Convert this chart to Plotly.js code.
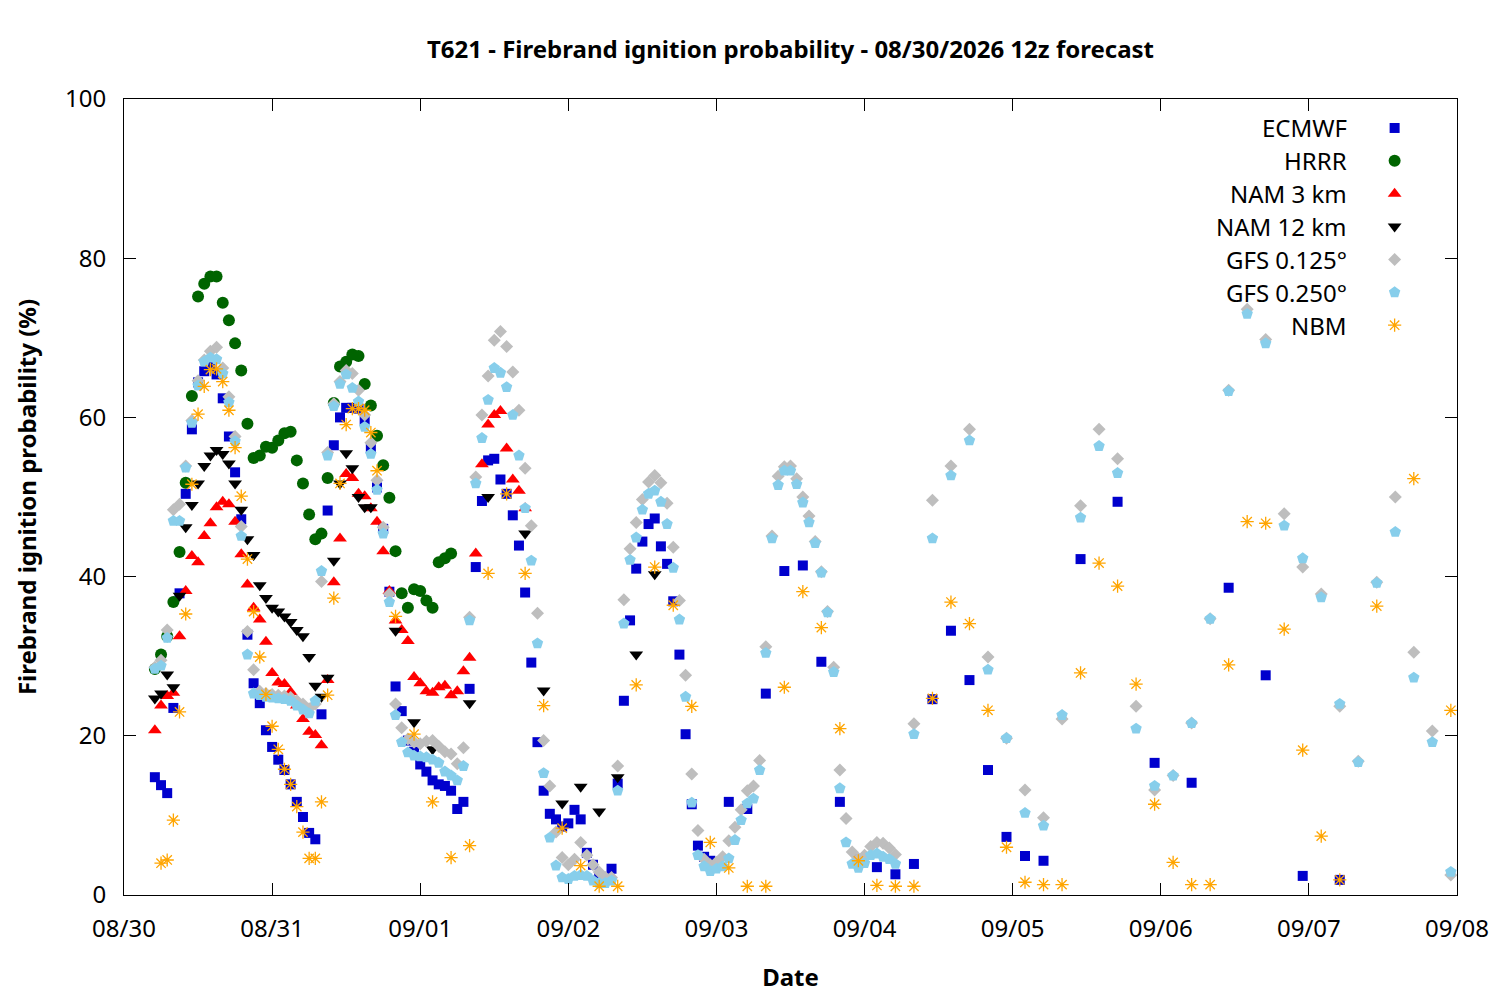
<!DOCTYPE html>
<html>
<head>
<meta charset="utf-8">
<script src="https://cdn.plot.ly/plotly-3.0.1.min.js"></script>
<style>html,body{margin:0;padding:0;background:#fff;}#chart{width:1500px;height:1000px;}</style>
</head>
<body>
<div id="chart"></div>
<script>
// ---- time helpers (hours since 2026-08-30 00:00 local) ----
function span(a, b, s) { var r = []; for (var h = a; h <= b; h += s) r.push(h); return r; }
function toDate(h) { return new Date(Date.UTC(2026, 7, 30, 0) + h * 3600000).toISOString().slice(0, 16).replace('T', ' '); }

// ---- series names ----
var seriesNames = ['ECMWF', 'HRRR', 'NAM 3 km', 'NAM 12 km', 'GFS 0.125°', 'GFS 0.250°', 'NBM'];

// ---- ECMWF ----
var ecmwfHours = span(5, 95, 1).concat(span(98, 149, 3), span(155, 197, 6));
var ecmwfValues = [
  14.8, 13.8, 12.8, 23.5, 37.9, 50.4, 58.5, 64.4, 65.8, 66.5,
  65.4, 62.4, 57.6, 53.1, 47.2, 32.7, 26.6, 24.1, 20.7, 18.6,
  17.0, 15.7, 13.9, 11.7, 9.8, 7.8, 7.0, 22.7, 48.3, 56.5,
  60.0, 61.2, 61.2, 61.1, 59.7, 56.1, 51.2, 46.0, 38.1, 26.2,
  23.1, 19.4, 18.0, 16.4, 15.5, 14.4, 13.9, 13.7, 13.1, 10.8,
  11.7, 25.9, 41.2, 49.5, 54.6, 54.8, 52.2, 50.4, 47.7, 43.9,
  38.0, 29.2, 19.2, 13.1, 10.2, 9.5, 8.6, 9.0, 10.7, 9.5,
  5.3, 3.8, 2.2, 2.0, 3.3, 14.0, 24.4, 34.5, 41.0, 44.4,
  46.6, 47.3, 43.8, 41.6, 36.9, 30.2, 20.2, 11.4, 6.2, 4.8,
  4.3,
  11.7, 10.8, 25.3, 40.7, 41.4, 29.3, 11.7, 4.5, 3.5, 2.6, 3.9, 24.6, 33.2, 27.0, 15.7, 7.3, 4.9, 4.3,
  42.2, 49.4, 16.6, 14.1, 38.6, 27.6, 2.4, 1.9
];

// ---- HRRR ----
var hrrrHours = span(5, 53, 1);
var hrrrValues = [
  28.4, 30.2, 32.5, 36.8, 43.1, 51.8, 62.7, 75.2, 76.8, 77.7,
  77.7, 74.4, 72.2, 69.3, 65.9, 59.2, 54.9, 55.2, 56.3, 56.2,
  57.1, 58.0, 58.2, 54.6, 51.7, 47.8, 44.7, 45.4, 52.4, 61.8,
  66.4, 67.0, 67.9, 67.7, 64.2, 61.5, 57.7, 54.0, 49.9, 43.2,
  37.9, 36.1, 38.4, 38.2, 37.0, 36.1, 41.8, 42.3, 42.9
];

// ---- NAM 3 km ----
var nam3Hours = span(5, 65, 1);
var nam3Values = [
  20.7, 23.8, 25.0, 25.4, 32.5, 38.2, 42.6, 41.8, 45.1, 46.7,
  48.7, 49.4, 49.1, 46.9, 42.8, 39.0, 36.1, 34.6, 31.8, 27.9,
  26.7, 26.5, 25.5, 23.8, 22.1, 20.5, 20.1, 18.8, 27.0, 39.3,
  44.8, 52.9, 52.4, 50.4, 50.1, 48.6, 46.9, 43.2, 38.2, 34.5,
  33.3, 31.9, 27.4, 26.6, 25.6, 25.4, 26.1, 26.3, 25.1, 25.6,
  28.1, 29.8, 42.9, 54.1, 59.1, 60.3, 60.8, 56.1, 52.2, 50.8,
  48.6
];

// ---- NAM 12 km ----
var nam12Hours = span(5, 40, 1).concat([44, 47, 50, 56, 59, 65, 68, 71, 74, 77, 80, 83, 86]);
var nam12Values = [
  24.7, 25.3, 27.7, 26.1, 37.6, 46.2, 49.0, 51.7, 53.9, 55.2,
  55.9, 55.4, 54.2, 51.7, 48.4, 44.7, 42.7, 38.9, 37.3, 36.1,
  35.6, 35.0, 34.3, 33.3, 32.5, 29.9, 26.3, 24.9, 27.3, 42.0,
  51.7, 55.5, 53.6, 50.0, 48.7, 48.7,
  33.2, 21.7, 18.3, 24.1, 50.0, 45.4, 25.7, 11.5, 13.6, 10.5, 14.8, 30.2, 40.3
];

// ---- GFS 0.125 ----
var gfsHours = span(5, 125, 1).concat(span(128, 215, 3));
var gfs125Values = [
  28.6, 29.5, 33.3, 48.4, 49.1, 53.9, 59.6, 64.6, 67.2, 68.3,
  68.8, 66.2, 62.6, 57.6, 46.3, 33.1, 28.3, 25.6, 25.3, 25.2,
  25.1, 25.0, 24.8, 24.4, 24.0, 23.4, 24.0, 39.4, 55.6, 61.7,
  64.5, 65.9, 65.5, 63.4, 60.3, 56.8, 52.1, 46.2, 37.8, 24.0,
  21.0, 19.6, 19.2, 19.0, 19.3, 19.4, 18.7, 18.0, 17.7, 16.5,
  18.5, 34.9, 52.5, 60.3, 65.2, 69.7, 70.8, 68.9, 65.7, 60.9,
  53.6, 46.4, 35.4, 19.4, 13.7, 7.9, 4.7, 3.8, 4.5, 6.6,
  5.0, 3.8, 2.9, 2.2, 2.2, 16.2, 37.1, 43.5, 46.8, 49.7,
  51.9, 52.7, 51.8, 49.2, 43.7, 37.0, 27.6, 15.2, 8.1, 4.5,
  3.8, 4.1, 4.8, 6.8, 8.5, 10.7, 13.1, 13.7, 16.9, 31.2,
  45.1, 52.6, 53.8, 53.9, 52.3, 50.0, 47.6, 44.4, 40.6, 35.6,
  28.6, 15.7, 9.6, 5.4, 4.6, 5.0, 6.1, 6.6, 6.5, 5.9,
  5.1,
  21.5, 49.6, 53.9, 58.5, 29.9, 19.7, 13.2, 9.7, 22.1, 48.9,
  58.5, 54.8, 23.7, 13.2, 15.0, 21.6, 34.7, 63.4, 73.6, 69.8,
  47.9, 41.2, 37.8, 23.7, 16.8, 39.3, 50.0, 30.5, 20.6, 2.5
];

// ---- GFS 0.250 ----
var gfs250Values = [
  28.4, 28.8, 32.3, 47.0, 47.0, 53.7, 59.3, 64.0, 67.0, 67.5,
  67.3, 65.5, 61.9, 57.0, 45.1, 30.2, 25.3, 25.1, 24.9, 24.8,
  24.7, 24.6, 24.4, 23.8, 23.3, 22.8, 24.4, 40.7, 55.2, 61.4,
  64.2, 65.4, 63.7, 62.0, 58.8, 55.4, 50.9, 45.4, 36.8, 22.6,
  19.2, 17.9, 17.5, 17.4, 17.3, 17.0, 16.6, 15.5, 15.0, 14.4,
  16.2, 34.5, 51.7, 57.4, 62.2, 66.2, 65.6, 63.8, 60.3, 55.2,
  48.6, 42.0, 31.6, 15.3, 7.2, 3.7, 2.2, 2.0, 2.4, 2.5,
  2.4, 1.8, 1.5, 1.5, 1.8, 13.1, 34.1, 42.1, 44.9, 48.4,
  50.4, 50.8, 49.4, 46.6, 41.1, 34.6, 24.9, 11.6, 5.0, 3.6,
  3.0, 3.3, 3.6, 4.6, 6.9, 9.4, 11.5, 12.1, 15.7, 30.4,
  44.8, 51.5, 53.3, 53.3, 51.6, 49.3, 46.8, 44.2, 40.5, 35.5,
  28.0, 13.4, 6.6, 3.9, 3.4, 4.0, 5.0, 5.2, 4.8, 4.5,
  3.9,
  20.2, 44.8, 52.7, 57.1, 28.3, 19.7, 10.3, 8.7, 22.6, 47.4,
  56.4, 53.0, 20.9, 13.7, 15.0, 21.6, 34.7, 63.3, 73.0, 69.3,
  46.4, 42.3, 37.4, 24.0, 16.7, 39.2, 45.6, 27.3, 19.2, 2.9
];

// ---- NBM ----
var nbmHours = span(6, 41, 1).concat(span(44, 197, 3), [203, 209, 215]);
var nbmValues = [
  4.0, 4.4, 9.4, 23.0, 35.3, 51.6, 60.4, 63.9, 66.0, 66.1,
  64.5, 60.9, 56.2, 50.1, 42.2, 35.6, 29.9, 25.2, 21.2, 18.3,
  15.8, 13.9, 11.1, 7.9, 4.6, 4.6, 11.7, 25.1, 37.3, 51.7,
  59.1, 61.1, 61.1, 60.9, 58.1, 53.3,
  35.0, 20.2, 11.7, 4.7, 6.2, 40.4, 50.4, 40.4, 23.8, 8.4,
  3.7, 1.1, 1.1, 26.4, 41.2, 36.4, 23.7, 6.6, 3.4, 1.1,
  1.1, 26.1, 38.1, 33.6, 20.9, 4.3, 1.2, 1.1, 1.1, 24.7,
  36.8, 34.1, 23.2, 6.0, 1.6, 1.3, 1.3, 27.9, 41.7, 38.8,
  26.5, 11.4, 4.1, 1.3, 1.3, 28.9, 46.9, 46.7, 33.4, 18.2,
  7.4, 1.9,
  36.3, 52.3, 23.2
];

// ---- styles ----
var styles = [
  {symbol: 'square', size: 10, color: '#0000cd'},
  {symbol: 'circle', size: 12, color: '#006400'},
  {symbol: 'triangle-up', size: 12, color: '#ff0000'},
  {symbol: 'triangle-down', size: 12, color: '#000000'},
  {symbol: 'diamond', size: 10, color: '#bebebe'},
  {symbol: 'pentagon', size: 12, color: '#87ceeb'},
  {symbol: 'asterisk', size: 11, color: '#ffa500'}
];
var seriesHours = [ecmwfHours, hrrrHours, nam3Hours, nam12Hours, gfsHours, gfsHours, nbmHours];
var seriesValues = [ecmwfValues, hrrrValues, nam3Values, nam12Values, gfs125Values, gfs250Values, nbmValues];

function markerFor(st) {
  if (st.symbol === 'asterisk') {
    return {symbol: 'asterisk', size: st.size, color: st.color, line: {color: st.color, width: 1.3}};
  }
  return {symbol: st.symbol, size: st.size, color: st.color, line: {width: 0}};
}

var traces = [];
for (var i = 0; i < seriesNames.length; i++) {
  traces.push({
    type: 'scatter', mode: 'markers', name: seriesNames[i],
    x: seriesHours[i].map(toDate), y: seriesValues[i],
    marker: markerFor(styles[i]), showlegend: false, hoverinfo: 'x+y+name'
  });
}

// custom legend (text left, symbol right, like the original)
var legendTop = 0.9636, legendStep = 0.0413, legendMarkX = 0.9532, legendTextX = 0.9190;
var annotations = [];
for (var j = 0; j < seriesNames.length; j++) {
  var ly = legendTop - j * legendStep;
  traces.push({
    type: 'scatter', mode: 'markers', x: [legendMarkX], y: [ly], xaxis: 'x2', yaxis: 'y2',
    marker: markerFor(styles[j]), showlegend: false, hoverinfo: 'skip'
  });
  annotations.push({
    xref: 'paper', yref: 'paper', x: legendTextX, y: ly, xanchor: 'right', yanchor: 'middle',
    text: seriesNames[j], showarrow: false, font: {size: 24, color: '#000'}
  });
}

var font = 'Noto Sans, Open Sans, DejaVu Sans, sans-serif';
var layout = {
  width: 1500, height: 1000,
  paper_bgcolor: '#fff', plot_bgcolor: '#fff',
  font: {family: font, size: 24, color: '#000'},
  margin: {l: 124, r: 43, t: 99, b: 105, pad: 0},
  title: {text: '<b>T621 - Firebrand ignition probability - 08/30/2026 12z forecast</b>',
          font: {size: 24, color: '#000'}, xref: 'paper', x: 0.5, xanchor: 'center',
          yref: 'container', y: 0.95, yanchor: 'middle'},
  xaxis: {
    type: 'date', range: [toDate(0), toDate(216)], tick0: toDate(0), dtick: 86400000,
    tickformat: '%m/%d', ticks: 'inside', ticklen: 12, tickwidth: 1, tickcolor: '#000',
    mirror: 'allticks', showline: true, linecolor: '#000', linewidth: 1,
    showgrid: false, zeroline: false, tickfont: {size: 24}, ticklabelstandoff: 12,
    title: {text: '<b>Date</b>', font: {size: 24}, standoff: 26}
  },
  yaxis: {
    range: [0, 100], dtick: 20, ticks: 'inside', ticklen: 12, tickwidth: 1, tickcolor: '#000',
    mirror: 'allticks', showline: true, linecolor: '#000', linewidth: 1,
    showgrid: false, zeroline: false, tickfont: {size: 24}, ticklabelstandoff: 12,
    title: {text: '<b>Firebrand ignition probability (%)</b>', font: {size: 24}, standoff: 21}
  },
  xaxis2: {overlaying: 'x', range: [0, 1], visible: false, fixedrange: true},
  yaxis2: {overlaying: 'y', range: [0, 1], visible: false, fixedrange: true},
  annotations: annotations,
  showlegend: false
};

Plotly.newPlot('chart', traces, layout, {displayModeBar: false, staticPlot: true});
</script>
</body>
</html>
